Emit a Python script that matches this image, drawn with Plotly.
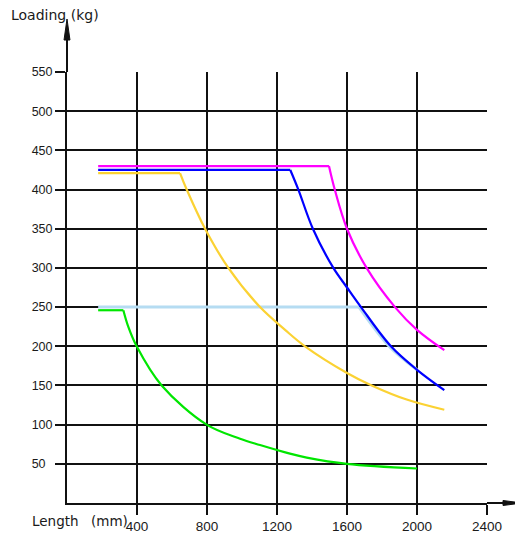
import plotly.graph_objects as go

# ---- data ----
x_ticks = [400, 800, 1200, 1600, 2000, 2400]
y_ticks = [50, 100, 150, 200, 250, 300, 350, 400, 450, 500, 550]
y_ticktext = ["50\u00a0\u00a0", "100", "150", "200", "250", "300", "350", "400", "450", "500", "550"]

magenta_x = [178, 1497, 1530, 1600, 1712, 1874, 2000, 2156]
magenta_y = [430, 430, 400, 350, 300, 250, 221, 195]

blue_x = [178, 1276, 1322, 1405, 1522, 1600, 1680, 1851, 2000, 2156]
blue_y = [425, 425, 400, 350, 300, 275, 250, 200, 170, 144]

lightblue_x = [178, 1669, 1760, 1850, 2000]
lightblue_y = [250, 250, 222, 198, 170]

yellow_x = [178, 646, 684, 789, 922, 1103, 1246, 1360, 1600, 1741, 1941, 2156]
yellow_y = [421, 421, 400, 350, 300, 250, 221, 200, 166, 150, 132, 119]

green_x = [178, 322, 350, 398, 541, 798, 989, 1103, 1274, 1370, 1600, 2000]
green_y = [246, 246, 225, 200, 150, 100, 82, 74, 63, 58, 50, 44]

series = [
    (lightblue_x, lightblue_y, "#b5dcf2", 3),
    (green_x, green_y, "#00e600", 2.2),
    (yellow_x, yellow_y, "#fbd233", 2.2),
    (blue_x, blue_y, "#0000ff", 2.2),
    (magenta_x, magenta_y, "#ff00ff", 2.2),
]

fig = go.Figure()
for xs, ys, col, w in series:
    # flat part (straight)
    fig.add_trace(go.Scatter(x=xs[:2], y=ys[:2], mode="lines",
                             line=dict(color=col, width=w), showlegend=False, hoverinfo="skip"))
    # falling curve (smooth)
    fig.add_trace(go.Scatter(x=xs[1:], y=ys[1:], mode="lines",
                             line=dict(color=col, width=w, shape="spline", smoothing=1),
                             showlegend=False, hoverinfo="skip"))

TICKFONT = "Liberation Sans, Arial, sans-serif"
LABFONT = "DejaVu Sans, Verdana, sans-serif"
TXT = "#1a1a1a"
AX = "#111"

fig.update_layout(
    width=515, height=527,
    margin=dict(l=59, r=36, t=64, b=32, autoexpand=False),
    paper_bgcolor="white", plot_bgcolor="white",
    font=dict(family=TICKFONT, size=13, color=TXT),
    xaxis=dict(range=[0, 2400], tickvals=x_ticks, showgrid=True, gridcolor=AX, gridwidth=2,
               showline=True, linecolor=AX, linewidth=2, zeroline=False, automargin=False,
               ticks="outside", ticklen=10, tickwidth=2, tickcolor=AX,
               tickfont=dict(family=TICKFONT, size=13.5, color=TXT)),
    yaxis=dict(range=[0, 550], tickvals=y_ticks, ticktext=y_ticktext, showgrid=True,
               gridcolor=AX, gridwidth=2, showline=True, linecolor=AX, linewidth=2,
               zeroline=False, automargin=False, ticks="outside", ticklen=10, tickwidth=2,
               tickcolor=AX, tickfont=dict(family=TICKFONT, size=12.5, color=TXT)),
    shapes=[
        dict(type="line", xref="paper", yref="paper", x0=1, x1=1.07, y0=0, y1=0,
             line=dict(color=AX, width=2)),
        dict(type="path", xref="paper", yref="paper",
             path="M 1.0381,0.0058 L 1.0833,0 L 1.0381,-0.0058 Z",
             fillcolor=AX, line=dict(color=AX, width=1)),
        dict(type="line", xref="paper", yref="paper", x0=0, x1=0, y0=1, y1=1.08,
             line=dict(color=AX, width=2)),
        dict(type="path", xref="paper", yref="paper",
             path="M -0.0071,1.0742 L 0,1.1230 L 0.0071,1.0742 Z",
             fillcolor=AX, line=dict(color=AX, width=1)),
    ],
    annotations=[
        dict(text="Loading (kg)", xref="paper", yref="paper", x=-0.138, y=1.1311,
             xanchor="left", yanchor="middle", showarrow=False,
             font=dict(family=LABFONT, size=14, color=TXT)),
        dict(text="Length", xref="paper", yref="paper", x=-0.088, y=-0.0418,
             xanchor="left", yanchor="middle", showarrow=False,
             font=dict(family=LABFONT, size=13.5, color=TXT)),
        dict(text="(mm)", xref="paper", yref="paper", x=0.0524, y=-0.0418,
             xanchor="left", yanchor="middle", showarrow=False,
             font=dict(family=LABFONT, size=13.5, color=TXT)),
    ],
)

fig.write_html("out.html")
